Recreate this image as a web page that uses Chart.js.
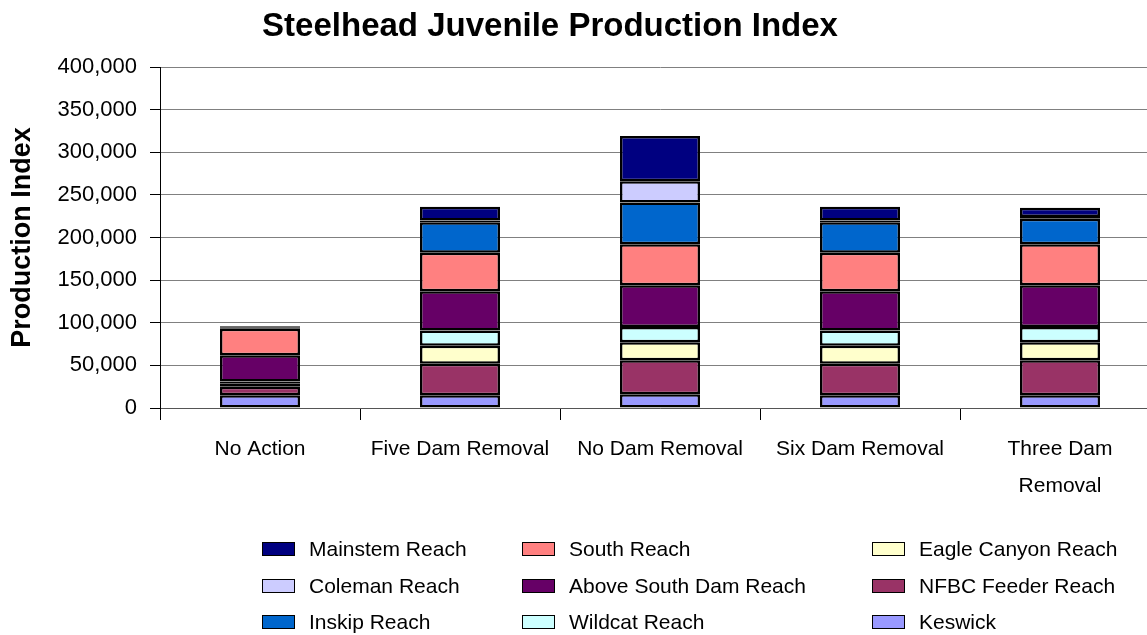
<!DOCTYPE html>
<html>
<head>
<meta charset="utf-8">
<script src="https://cdn.jsdelivr.net/npm/chart.js@4"></script>
<style>
  html, body { margin: 0; padding: 0; background: #fff; overflow: hidden; }
  #wrap { position: relative; width: 1160px; height: 635px; }
  #title { position: absolute; left: 0; top: 7px; width: 1100px; text-align: center; font: bold 33px "Liberation Sans", Arial, sans-serif; line-height: 36px; color: #000; }
  .lg { position: absolute; display: flex; align-items: center; font: 21px "Liberation Sans", Arial, sans-serif; color: #000; white-space: nowrap; }
  .lg .sw { width: 31px; height: 12px; border: 1.5px solid #000; margin-right: 14px; }
</style>
</head>
<body>
<div id="wrap">
  <canvas id="chart"></canvas>
  <div id="title">Steelhead Juvenile Production Index</div>
  <div id="legend"></div>
</div>
<script>
// categories and series values (stack order bottom -> top)
const categories = ['No Action', 'Five Dam Removal', 'No Dam Removal', 'Six Dam Removal', ['Three Dam', 'Removal']];
const keswick    = [15000, 15000, 16000, 15000, 15000];
const nfbcFeeder = [10000, 37000, 40000, 37000, 41000];
const eagleCanyon = [4000, 21000, 21000, 21000, 21000];
const wildcat    = [2000, 18000, 18000, 18000, 18000];
const aboveSouth = [31000, 46000, 49000, 46000, 49000];
const south      = [31000, 45000, 48000, 45000, 48000];
const inskip     = [1000, 36000, 49000, 36000, 30000];
const coleman    = [0, 2000, 25000, 2000, 2000];
const mainstem   = [2000, 16000, 53000, 16000, 11000];
const yTicks = [0, 50000, 100000, 150000, 200000, 250000, 300000, 350000, 400000];

const series = [
  { label: 'Keswick', data: keswick, color: '#9999ff' },
  { label: 'NFBC Feeder Reach', data: nfbcFeeder, color: '#993366' },
  { label: 'Eagle Canyon Reach', data: eagleCanyon, color: '#ffffcc' },
  { label: 'Wildcat Reach', data: wildcat, color: '#ccffff' },
  { label: 'Above South Dam Reach', data: aboveSouth, color: '#660066' },
  { label: 'South Reach', data: south, color: '#ff8080' },
  { label: 'Inskip Reach', data: inskip, color: '#0066cc' },
  { label: 'Coleman Reach', data: coleman, color: '#ccccff' },
  { label: 'Mainstem Reach', data: mainstem, color: '#000080' },
];

// legend columns as in the original (top of stack first, filled by column)
const legendOrder = ['Mainstem Reach', 'Coleman Reach', 'Inskip Reach',
  'South Reach', 'Above South Dam Reach', 'Wildcat Reach',
  'Eagle Canyon Reach', 'NFBC Feeder Reach', 'Keswick'];
const legendCols = [262, 522, 872];
const legendRows = [549, 586, 622];

const lg = document.getElementById('legend');
legendOrder.forEach((name, i) => {
  const s = series.find(d => d.label === name);
  const el = document.createElement('div');
  el.className = 'lg';
  el.style.left = legendCols[Math.floor(i / 3)] + 'px';
  el.style.top = (legendRows[i % 3] - 12) + 'px';
  el.style.height = '24px';
  el.innerHTML = `<span class="sw" style="background:${s.color}"></span><span>${s.label}</span>`;
  lg.appendChild(el);
});

new Chart(document.getElementById('chart'), {
  type: 'bar',
  data: {
    labels: categories,
    datasets: series.map(s => ({
      label: s.label, data: s.data,
      backgroundColor: s.color, borderColor: '#000', borderWidth: 2.5, borderSkipped: false,
      barPercentage: 0.4, categoryPercentage: 1,
    }))
  },
  options: {
    responsive: true, maintainAspectRatio: false, animation: false,
    layout: { padding: { top: 67, left: 0, right: 0, bottom: 127 } },
    plugins: { legend: { display: false }, tooltip: { enabled: false } },
    scales: {
      x: {
        stacked: true,
        afterFit: s => { s.height = 100; },
        grid: { offset: true, drawOnChartArea: false, tickLength: 12, tickColor: '#000', tickWidth: 1 },
        border: { color: '#555', width: 1 },
        ticks: { color: '#000', padding: 11, maxRotation: 0, autoSkip: false,
          font: { family: '"Liberation Sans", Arial', size: 21, lineHeight: 1.76 } },
      },
      y: {
        stacked: true, min: 0, max: 400000,
        afterFit: s => { s.width = 160; },
        afterBuildTicks: s => { s.ticks = yTicks.map(v => ({ value: v })); },
        grid: { color: '#808080', lineWidth: 1, tickLength: 10, tickColor: '#000' },
        border: { color: '#000', width: 1 },
        ticks: { color: '#000', padding: 13, callback: v => v.toLocaleString('en-US'),
          font: { family: '"Liberation Sans", Arial', size: 22 } },
        title: { display: true, text: 'Production Index', color: '#000', padding: { top: 6, bottom: 0 },
          font: { family: '"Liberation Sans", Arial', size: 27, weight: 'bold' } },
      }
    }
  }
});
</script>
</body>
</html>
